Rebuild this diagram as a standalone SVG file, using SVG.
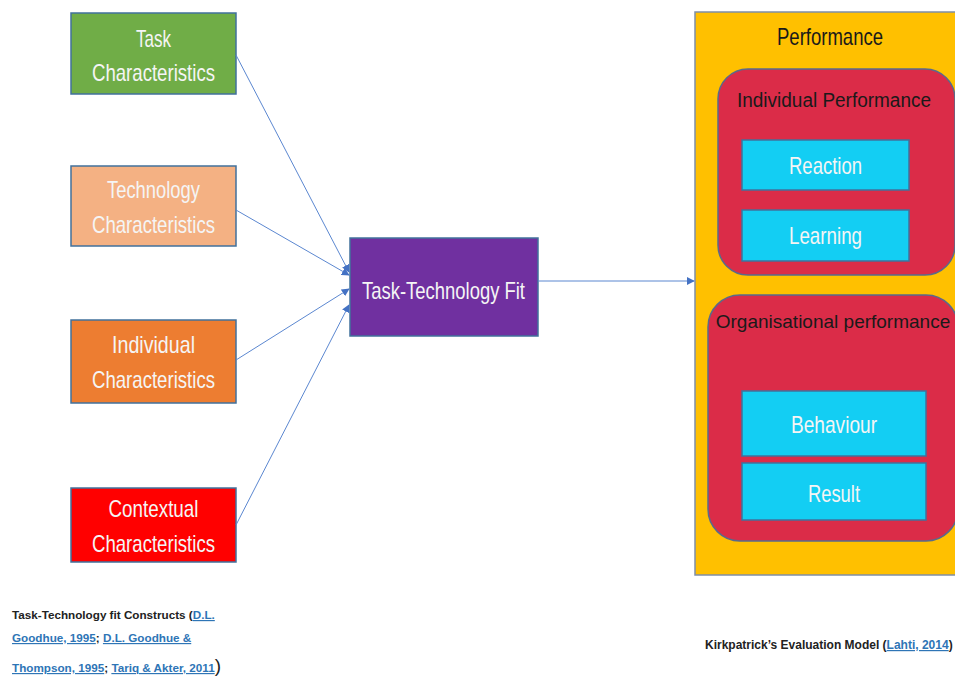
<svg xmlns="http://www.w3.org/2000/svg" width="955" height="677" viewBox="0 0 955 677">
<style>
.box{stroke:#41719c;stroke-width:1.5}
.wt{font-family:"Liberation Sans",Arial,sans-serif;font-size:24px;fill:#f5f5f5;text-anchor:middle}
.bt{font-family:"Liberation Sans",Arial,sans-serif;font-size:24px;fill:#1a1a1a;text-anchor:middle}
.bt.sm{font-size:19.5px}
.cap{font-family:"Liberation Sans",Arial,sans-serif;font-size:11.7px;font-weight:bold;fill:#222}
.cap.r{font-size:12px}
.paren{font-size:19px;font-weight:normal}
.lnk{fill:#2e75b6;text-decoration:underline}
.conn{stroke:#5b87d0;stroke-width:1;fill:none;marker-end:url(#ah)}
</style>
<defs>
<marker id="ah" viewBox="0 0 10 10" refX="9" refY="5" markerWidth="8" markerHeight="8" orient="auto" markerUnits="userSpaceOnUse">
<path d="M0,0 L10,5 L0,10 z" fill="#4472c4"/>
</marker>
</defs>
<rect width="955" height="677" fill="#ffffff"/>

<g id="task">
<rect class="box" x="71" y="13" width="165" height="81" fill="#70ad47"/>
<text class="wt" x="153.5" y="47" textLength="35" lengthAdjust="spacingAndGlyphs">Task</text>
<text class="wt" x="153.5" y="81" textLength="123" lengthAdjust="spacingAndGlyphs">Characteristics</text>
</g>
<g id="technology">
<rect class="box" x="71" y="166" width="165" height="80" fill="#f4b183"/>
<text class="wt" x="153.5" y="198" textLength="93" lengthAdjust="spacingAndGlyphs">Technology</text>
<text class="wt" x="153.5" y="233" textLength="123" lengthAdjust="spacingAndGlyphs">Characteristics</text>
</g>
<g id="individual">
<rect class="box" x="71" y="320" width="165" height="83" fill="#ed7d31"/>
<text class="wt" x="153.5" y="353" textLength="83" lengthAdjust="spacingAndGlyphs">Individual</text>
<text class="wt" x="153.5" y="388" textLength="123" lengthAdjust="spacingAndGlyphs">Characteristics</text>
</g>
<g id="contextual">
<rect class="box" x="71" y="488" width="165" height="74" fill="#ff0000"/>
<text class="wt" x="153.5" y="517" textLength="90" lengthAdjust="spacingAndGlyphs">Contextual</text>
<text class="wt" x="153.5" y="552" textLength="123" lengthAdjust="spacingAndGlyphs">Characteristics</text>
</g>
<g id="ttf">
<rect class="box" x="350" y="238" width="188" height="98" fill="#7030a0"/>
<text class="wt" x="443.5" y="299" textLength="163" lengthAdjust="spacingAndGlyphs">Task-Technology Fit</text>
</g>

<g id="performance">
<rect x="695" y="12" width="270" height="563" fill="#ffc000" stroke="#7f8fa6" stroke-width="1.5"/>
<text class="bt" x="830" y="45" textLength="106" lengthAdjust="spacingAndGlyphs">Performance</text>
</g>
<g id="individual-performance">
<rect x="718" y="69" width="237" height="206" rx="30" fill="#db2c48" stroke="#5a6a8a" stroke-width="1.5"/>
<text class="bt sm" x="834" y="107" textLength="194" lengthAdjust="spacingAndGlyphs">Individual Performance</text>
</g>
<g id="reaction">
<rect class="box" x="742" y="140" width="167" height="50" fill="#13cef3"/>
<text class="wt" x="825.5" y="174" textLength="73" lengthAdjust="spacingAndGlyphs">Reaction</text>
</g>
<g id="learning">
<rect class="box" x="742" y="210" width="167" height="51" fill="#13cef3"/>
<text class="wt" x="825.5" y="244" textLength="73" lengthAdjust="spacingAndGlyphs">Learning</text>
</g>
<g id="organisational-performance">
<rect x="708" y="295" width="250" height="246" rx="32" fill="#db2c48" stroke="#5a6a8a" stroke-width="1.5"/>
<text class="bt" x="833" y="328" style="font-size:19px">Organisational performance</text>
</g>
<g id="behaviour">
<rect class="box" x="742" y="391" width="184" height="65" fill="#13cef3"/>
<text class="wt" x="834" y="433" textLength="86" lengthAdjust="spacingAndGlyphs">Behaviour</text>
</g>
<g id="result">
<rect class="box" x="742" y="463" width="184" height="57" fill="#13cef3"/>
<text class="wt" x="834" y="502" textLength="52" lengthAdjust="spacingAndGlyphs">Result</text>
</g>

<g id="connectors">
<line class="conn" x1="236" y1="55" x2="349" y2="272"/>
<line class="conn" x1="236" y1="210" x2="349" y2="275"/>
<line class="conn" x1="236" y1="360" x2="349" y2="289"/>
<line class="conn" x1="236" y1="525" x2="349" y2="305"/>
<line class="conn" x1="538" y1="281" x2="694" y2="281"/>
</g>

<g id="caption-left">
<text class="cap" x="12" y="619">Task-Technology fit Constructs (<tspan class="lnk">D.L.</tspan></text>
<text class="cap" x="12" y="642"><tspan class="lnk">Goodhue, 1995</tspan>; <tspan class="lnk">D.L. Goodhue &amp;</tspan></text>
<text class="cap" x="12" y="672"><tspan class="lnk">Thompson, 1995</tspan>; <tspan class="lnk">Tariq &amp; Akter, 2011</tspan><tspan class="paren">)</tspan></text>
</g>
<g id="caption-right">
<text class="cap r" x="705" y="649">Kirkpatrick’s Evaluation Model (<tspan class="lnk">Lahti, 2014</tspan>)</text>
</g>
</svg>
